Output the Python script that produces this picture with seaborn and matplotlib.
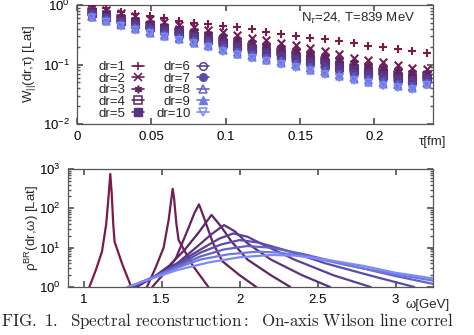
import numpy as np
import pandas as pd
import matplotlib
matplotlib.use("Agg")
import matplotlib.pyplot as plt
from matplotlib.lines import Line2D
from matplotlib.colors import LinearSegmentedColormap
import seaborn as sns

# ---------------- data: top panel W(dr, tau) ----------------
tau = [0.0098, 0.0196, 0.0294, 0.0392, 0.0490, 0.0588, 0.0686, 0.0784, 0.0882, 0.0980,
       0.1078, 0.1176, 0.1274, 0.1372, 0.1470, 0.1568, 0.1666, 0.1764, 0.1862, 0.1960,
       0.2058, 0.2156, 0.2254, 0.2352]

W_dr1 = [0.97, 0.88, 0.77, 0.71, 0.66, 0.60, 0.545, 0.505, 0.48, 0.45, 0.42, 0.39,
         0.35, 0.326, 0.30, 0.284, 0.265, 0.248, 0.227, 0.207, 0.195, 0.18, 0.169, 0.154]
W_dr2 = [0.93, 0.83, 0.72, 0.65, 0.58, 0.52, 0.47, 0.42, 0.385, 0.35, 0.313, 0.28,
         0.255, 0.233, 0.213, 0.187, 0.169, 0.148, 0.13, 0.119, 0.111, 0.098, 0.088, 0.083]
W_dr3 = [0.837, 0.738, 0.637, 0.569, 0.504, 0.449, 0.403, 0.359, 0.325, 0.290, 0.258, 0.230,
         0.2085, 0.189, 0.171, 0.150, 0.1346, 0.118, 0.1043, 0.0953, 0.0881, 0.0788, 0.0713, 0.0712]
W_dr4 = [0.779, 0.682, 0.585, 0.519, 0.458, 0.407, 0.364, 0.323, 0.289, 0.255, 0.2265, 0.2015,
         0.1818, 0.164, 0.1477, 0.1295, 0.1153, 0.1012, 0.0898, 0.082, 0.0752, 0.0679, 0.0619, 0.0642]
W_dr5 = [0.734, 0.639, 0.546, 0.481, 0.423, 0.375, 0.334, 0.296, 0.263, 0.2296, 0.2034, 0.1806,
         0.1625, 0.1458, 0.1307, 0.1146, 0.1015, 0.0892, 0.0794, 0.0724, 0.0661, 0.0601, 0.055, 0.0589]
W_dr6 = [0.698, 0.604, 0.515, 0.451, 0.395, 0.350, 0.310, 0.275, 0.242, 0.2098, 0.1854, 0.1644,
         0.1475, 0.1319, 0.1177, 0.1032, 0.0909, 0.080, 0.0715, 0.0651, 0.0591, 0.0542, 0.0497, 0.0547]
W_dr7 = [0.669, 0.576, 0.490, 0.428, 0.374, 0.330, 0.292, 0.258, 0.2263, 0.1945, 0.1717, 0.152,
         0.1361, 0.1213, 0.1079, 0.0945, 0.083, 0.0731, 0.0655, 0.0596, 0.0539, 0.0496, 0.0457, 0.0515]
W_dr8 = [0.644, 0.553, 0.469, 0.408, 0.355, 0.313, 0.276, 0.244, 0.2129, 0.1818, 0.1602, 0.1417,
         0.1266, 0.1125, 0.0997, 0.0874, 0.0765, 0.0674, 0.0605, 0.055, 0.0496, 0.0459, 0.0424, 0.0487]
W_dr9 = [0.626, 0.535, 0.453, 0.393, 0.341, 0.3005, 0.2648, 0.2337, 0.203, 0.1725, 0.1518, 0.1341,
         0.1196, 0.1061, 0.0938, 0.0822, 0.0718, 0.0633, 0.0569, 0.0517, 0.0465, 0.0432, 0.040, 0.0467]
W_dr10 = [0.61, 0.52, 0.44, 0.38, 0.33, 0.29, 0.255, 0.225, 0.195, 0.165, 0.145, 0.128,
          0.114, 0.101, 0.089, 0.078, 0.068, 0.06, 0.054, 0.049, 0.044, 0.041, 0.038, 0.045]

W_all = [W_dr1, W_dr2, W_dr3, W_dr4, W_dr5, W_dr6, W_dr7, W_dr8, W_dr9, W_dr10]
dr_labels = ["dr=1", "dr=2", "dr=3", "dr=4", "dr=5", "dr=6", "dr=7", "dr=8", "dr=9", "dr=10"]

# ---------------- data: bottom panel rho(dr, omega) ----------------
om_dr1 = [1.037, 1.08, 1.118, 1.145, 1.162, 1.171, 1.18, 1.19, 1.199, 1.25, 1.306]
rho_dr1 = [1, 2.8, 8, 40, 250, 750, 250, 40, 14, 3.6, 1]
om_dr2 = [1.406, 1.46, 1.513, 1.545, 1.563, 1.571, 1.58, 1.595, 1.609, 1.70, 1.80]
rho_dr2 = [1, 3, 10, 50, 180, 315, 180, 40, 15.6, 3.5, 1]
om_dr3 = [1.44, 1.52, 1.59, 1.67, 1.71, 1.74, 1.77, 1.83, 1.89, 2.0, 2.107]
rho_dr3 = [1, 2.3, 5.2, 30, 75, 126, 60, 13, 4.5, 2, 1]
om_dr4 = [1.34, 1.45, 1.55, 1.65, 1.74, 1.82, 1.88, 1.95, 2.05, 2.2, 2.325]
rho_dr4 = [1, 1.8, 3.5, 9, 25, 68, 35, 14, 5, 2, 1]
om_dr5 = [1.32, 1.45, 1.6, 1.72, 1.82, 1.90, 1.97, 2.05, 2.2, 2.4, 2.58]
rho_dr5 = [1, 1.8, 4, 10, 22, 37.5, 26, 13, 5, 2, 1]
om_dr6 = [1.31, 1.45, 1.6, 1.75, 1.87, 1.96, 2.05, 2.15, 2.35, 2.6, 2.84]
rho_dr6 = [1, 1.8, 4, 9, 17, 23, 19, 12, 5, 2, 1]
om_dr7 = [1.30, 1.45, 1.6, 1.75, 1.88, 2.0, 2.12, 2.3, 2.55, 2.85, 3.12]
rho_dr7 = [1, 1.8, 3.6, 7.5, 12, 15.6, 13.5, 8.5, 4, 1.9, 1]
om_dr8 = [1.30, 1.45, 1.6, 1.75, 1.9, 2.05, 2.2, 2.4, 2.7, 3.0, 3.24]
rho_dr8 = [1, 1.8, 3.4, 6, 9, 11, 10, 7, 3.6, 1.9, 1.2]
om_dr9 = [1.29, 1.45, 1.6, 1.75, 1.93, 2.11, 2.25, 2.45, 2.7, 3.0, 3.24]
rho_dr9 = [1, 1.8, 3.1, 5, 6.8, 7.9, 7.5, 5.8, 3.5, 2.1, 1.45]
om_dr10 = [1.28, 1.45, 1.6, 1.8, 2.0, 2.2, 2.35, 2.55, 2.8, 3.0, 3.24]
rho_dr10 = [1, 1.7, 2.7, 4.2, 5.7, 6.5, 6.3, 5, 3.4, 2.3, 1.65]

om_all = [om_dr1, om_dr2, om_dr3, om_dr4, om_dr5, om_dr6, om_dr7, om_dr8, om_dr9, om_dr10]
rho_all = [rho_dr1, rho_dr2, rho_dr3, rho_dr4, rho_dr5, rho_dr6, rho_dr7, rho_dr8, rho_dr9, rho_dr10]

top_xticks = [0, 0.05, 0.1, 0.15, 0.2]
top_xticklabels = ["0", "0.05", "0.1", "0.15", "0.2"]
bot_xticks = [1, 1.5, 2, 2.5, 3]
bot_xticklabels = ["1", "1.5", "2", "2.5", "3"]

# ---------------- style ----------------
sns.set_theme(style="ticks")
plt.rcParams["font.family"] = ["Liberation Sans", "DejaVu Sans"]
plt.rcParams["mathtext.fontset"] = "custom"
plt.rcParams["mathtext.rm"] = "Liberation Sans"
plt.rcParams["mathtext.it"] = "Liberation Sans:italic"
plt.rcParams["mathtext.bf"] = "Liberation Sans:bold"
plt.rcParams.update({
    "xtick.direction": "in", "ytick.direction": "in",
    "xtick.top": True, "ytick.right": True,
    "xtick.major.size": 4, "ytick.major.size": 4,
    "xtick.minor.size": 2, "ytick.minor.size": 2,
    "xtick.color": "#555555", "ytick.color": "#555555",
    "xtick.labelcolor": "black", "ytick.labelcolor": "black",
    "axes.edgecolor": "#555555", "axes.linewidth": 0.9,
    "font.size": 9,
})

cmap = LinearSegmentedColormap.from_list("wl", ["#7e1a48", "#5a2668", "#5a4cae", "#7b8cf8"])
colors = [cmap(i / 9) for i in range(10)]

fig = plt.figure(figsize=(4.74, 3.35), dpi=100)
ax1 = fig.add_axes([77 / 474, 1 - 124 / 335, (433 - 77) / 474, (124 - 5) / 335])
ax2 = fig.add_axes([68 / 474, 1 - 287 / 335, (433 - 68) / 474, (287 - 169) / 335])

markers = ["+", "x", (6, 2, 0), "s", "s", "o", "o", "^", "^", "v"]
filled = [None, None, None, False, True, False, True, False, True, False]

handles = []
for i in range(10):
    df = pd.DataFrame({"tau": tau, "W": W_all[i]})
    c = colors[i]
    m = markers[i]
    if filled[i] is None:
        sns.scatterplot(data=df, x="tau", y="W", ax=ax1, marker=m, s=30,
                        color=c, linewidth=1.5, zorder=3 + i)
        h = Line2D([0], [0], color=c, marker=m, markersize=5.5, mew=1.2, lw=1.2)
    elif filled[i]:
        sns.scatterplot(data=df, x="tau", y="W", ax=ax1, marker=m, s=26,
                        color=c, edgecolor=c, linewidth=0.8, zorder=3 + i)
        h = Line2D([0], [0], color=c, marker=m, markersize=5.5, lw=1.2)
    else:
        sns.scatterplot(data=df, x="tau", y="W", ax=ax1, marker=m, s=26,
                        facecolor="none", edgecolor=c, linewidth=1.1, zorder=3 + i)
        h = Line2D([0], [0], color=c, marker=m, markersize=5.5, mfc="none", mew=1.1, lw=1.2)
    handles.append(h)

ax1.set_yscale("log")
ax1.set_ylim(0.01, 1.0)
ax1.set_xlim(0, 0.2394)
ax1.set_xticks(top_xticks)
ax1.set_xticklabels(top_xticklabels)
ax1.set_xlabel("")
ax1.set_ylabel(r"W$_{||}$(dr,τ) [Lat]", fontsize=9.5)
ax1.yaxis.set_label_coords(-0.11, 0.5)
ax1.tick_params(labelsize=9.5, pad=5)
ax1.text(1.0, -0.1, "τ[fm]", transform=ax1.transAxes, ha="center", va="top", fontsize=9.5)
ax1.text(0.95, 0.89, r"N$_{τ}$=24, T=839 MeV", transform=ax1.transAxes,
         ha="right", va="center", fontsize=9.5)
leg = ax1.legend(handles, dr_labels, ncol=2, loc="lower left", bbox_to_anchor=(0.035, -0.04),
                 frameon=False, markerfirst=False, fontsize=9.5, labelspacing=-0.05,
                 handlelength=0.9, handletextpad=0.5, columnspacing=0.9, borderpad=0.2)

for i in range(10):
    df = pd.DataFrame({"omega": om_all[i], "rho": rho_all[i]})
    sns.lineplot(data=df, x="omega", y="rho", ax=ax2, color=colors[i], lw=1.6,
                 sort=False, estimator=None)

ax2.set_yscale("log")
ax2.set_ylim(1, 1000)
ax2.set_xlim(0.9, 3.24)
ax2.set_xticks(bot_xticks)
ax2.set_xticklabels(bot_xticklabels)
ax2.set_xlabel("")
ax2.set_ylabel(r"ρ$^{\mathrm{BR}}$(dr,ω) [Lat]", fontsize=9.5)
ax2.yaxis.set_label_coords(-0.074, 0.5)
ax2.tick_params(labelsize=9.5, pad=5)
ax2.text(0.985, -0.1, "ω[GeV]", transform=ax2.transAxes, ha="center", va="top", fontsize=9.5)

fig.text(0.002, 0.026,
         r"$\mathrm{FIG.\ 1.\ \ Spectral\ reconstruction{:}\ \ On\text{-}axis\ Wilson\ line\ correl}$",
         ha="left", va="baseline", fontsize=12.2, math_fontfamily="cm")

fig.savefig("out.png", dpi=100)
